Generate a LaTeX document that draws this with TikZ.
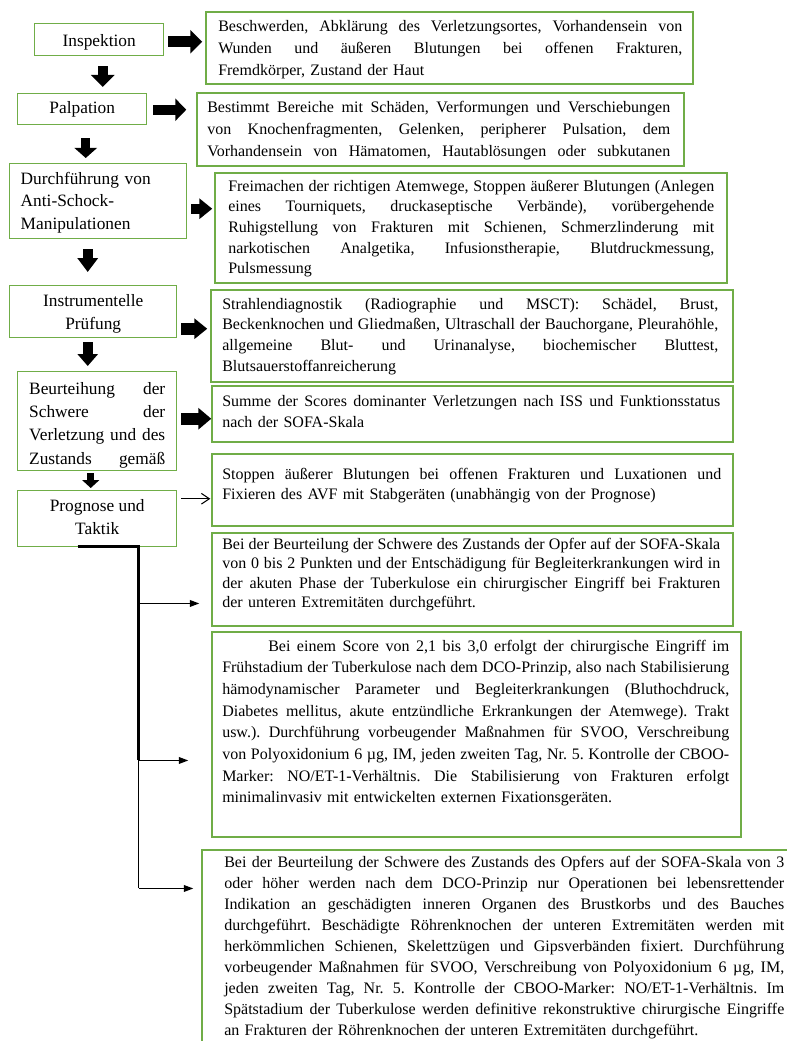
\documentclass[tikz,border=0pt]{standalone}
\usepackage{fontspec}
\setmainfont{Liberation Serif}
\usetikzlibrary{arrows.meta,calc,fit}
\definecolor{boxgreen}{RGB}{112,173,71}
\newcommand\jl[2]{\leavevmode\hbox to #1{\spaceskip=0.25em plus 1fil minus 0.06em\xspaceskip=\spaceskip\relax #2}}
\newcommand\fst{\rule{0pt}{9pt}}
\hbadness=10000 \hfuzz=30pt
\frenchspacing
\def\pxu{0.75pt}
\begin{document}
\begin{tikzpicture}[x=0.75pt,y=-0.75pt,
  lbox/.style={draw=boxgreen, line width=1.1pt, anchor=north west, inner sep=2pt, font=\fontsize{13pt}{#1}\selectfont},
  lbox/.default={17.25pt},
  rbox/.style={draw=boxgreen, line width=1.1pt, inner sep=0pt},
  rtext/.style={anchor=north west, inner sep=0pt, align=left, font=\fontsize{12pt}{#1}\selectfont},
  blockarrow/.style n args={3}{line width=#1, -{Triangle[length=#2,width=#3]}},
  trunkthick/.style={line width=2.25pt},
  trunkthin/.style={line width=1.1pt},
  branch/.style={line width=0.9pt, -{Triangle[length=7pt,width=5pt]}},
  thinarrow/.style={line width=0.75pt, -{Straight Barb[length=6pt,width=8pt]}}
]
\clip (0,0) rectangle (787,1041);

% ---------- left column ----------
\node[lbox, minimum width=129*\pxu, minimum height=32*\pxu] (insp) at (34,23) {\rule{0pt}{13.5pt}Inspektion};
\node[lbox, minimum width=129*\pxu, minimum height=31*\pxu] (palp) at (17,93) {Palpation};
\node[lbox={16.9pt}, minimum width=177*\pxu, minimum height=75*\pxu, text width=116.25pt, align=left] (durch) at (9,163)
  {\rule{0pt}{11pt}Durchführung von\\Anti-Schock-\\Manipulationen};
\node[lbox, minimum width=167*\pxu, minimum height=52*\pxu, align=center] (instr) at (9,285)
  {\rule{0pt}{12pt}Instrumentelle\\Prüfung};
\node[lbox={17.4pt}, minimum width=159*\pxu, minimum height=99*\pxu, text width=102pt, align=left] (beurt) at (17,371)
  {\noindent\rule{0pt}{15pt}\jl{102pt}{Beurteihung der}\\\jl{102pt}{Schwere der}\\\jl{102pt}{Verletzung und des}\\\jl{102pt}{Zustands gemäß}};
\node[lbox, minimum width=159*\pxu, minimum height=56*\pxu, align=center] (prog) at (17,490)
  {Prognose und\\Taktik\rule[-3pt]{0pt}{3pt}};

% ---------- right column boxes ----------
\node[rbox, fit={(206,12) (693,84)}] (b1) {};
\node[rbox, fit={(197,93) (684,166)}] (b2) {};
\node[rbox, fit={(215,173) (727,283)}] (b3) {};
\node[rbox, fit={(211,290) (733,382)}] (b4) {};
\node[rbox, fit={(212,386) (733,442)}] (b5) {};
\node[rbox, fit={(212,454) (733,526)}] (b6) {};
\node[rbox, fit={(212,533) (733,626)}] (b7) {};
\node[rbox, fit={(212,632) (741,837)}] (b8) {};
\node[rbox, fit={(202,850) (795,1060)}] (b9) {};

% ---------- right column texts ----------
\node[rtext={16.5pt}, text width=348pt] (t1) at (218,19) {\noindent\fst
\jl{348pt}{Beschwerden, Abklärung des Verletzungsortes, Vorhandensein von}\\
\jl{348pt}{Wunden und äußeren Blutungen bei offenen Frakturen,}\\
Fremdkörper, Zustand der Haut};

\node[rtext={16.5pt}, text width=347.25pt] (t2) at (207,100) {\noindent\fst
\jl{347.25pt}{Bestimmt Bereiche mit Schäden, Verformungen und Verschiebungen}\\
\jl{347.25pt}{von Knochenfragmenten, Gelenken, peripherer Pulsation, dem}\\
\jl{347.25pt}{Vorhandensein von Hämatomen, Hautablösungen oder subkutanen}};

\node[rtext={15.5pt}, text width=364.5pt] (t3) at (228,179) {\noindent\fst
\jl{364.5pt}{Freimachen der richtigen Atemwege, Stoppen äußerer Blutungen (Anlegen}\\
\jl{364.5pt}{eines Tourniquets, druckaseptische Verbände), vorübergehende}\\
\jl{364.5pt}{Ruhigstellung von Frakturen mit Schienen, Schmerzlinderung mit}\\
\jl{364.5pt}{narkotischen Analgetika, Infusionstherapie, Blutdruckmessung,}\\
Pulsmessung};

\node[rtext={15.5pt}, text width=372pt] (t4) at (222,297) {\noindent\fst
\jl{372pt}{Strahlendiagnostik (Radiographie und MSCT): Schädel, Brust,}\\
\jl{372pt}{Beckenknochen und Gliedmaßen, Ultraschall der Bauchorgane, Pleurahöhle,}\\
\jl{372pt}{allgemeine Blut- und Urinanalyse, biochemischer Bluttest,}\\
Blutsauerstoffanreicherung};

\node[rtext={15.75pt}, text width=373.5pt] (t5) at (222,394) {\noindent\fst
\jl{373.5pt}{Summe der Scores dominanter Verletzungen nach ISS und Funktionsstatus}\\
nach der SOFA-Skala};

\node[rtext={15pt}, text width=374.25pt] (t6) at (222,467) {\noindent\fst
\jl{374.25pt}{Stoppen äußerer Blutungen bei offenen Frakturen und Luxationen und}\\
Fixieren des AVF mit Stabgeräten (unabhängig von der Prognose)};

\node[rtext={14.6pt}, text width=373.5pt] (t7) at (222,537) {\noindent\fst
\jl{373.5pt}{Bei der Beurteilung der Schwere des Zustands der Opfer auf der SOFA-Skala}\\
\jl{373.5pt}{von 0 bis 2 Punkten und der Entschädigung für Begleiterkrankungen wird in}\\
\jl{373.5pt}{der akuten Phase der Tuberkulose ein chirurgischer Eingriff bei Frakturen}\\
der unteren Extremitäten durchgeführt.};

\node[rtext={16.25pt}, text width=380.25pt] (t8) at (222,639) {\noindent\fst\hspace*{34.5pt}%
\jl{345.75pt}{Bei einem Score von 2,1 bis 3,0 erfolgt der chirurgische Eingriff im}\\
\jl{380.25pt}{Frühstadium der Tuberkulose nach dem DCO-Prinzip, also nach Stabilisierung}\\
\jl{380.25pt}{hämodynamischer Parameter und Begleiterkrankungen (Bluthochdruck,}\\
\jl{380.25pt}{Diabetes mellitus, akute entzündliche Erkrankungen der Atemwege). Trakt}\\
\jl{380.25pt}{usw.). Durchführung vorbeugender Maßnahmen für SVOO, Verschreibung}\\
\jl{380.25pt}{von Polyoxidonium 6 µg, IM, jeden zweiten Tag, Nr. 5. Kontrolle der CBOO-}\\
\jl{380.25pt}{Marker: NO/ET-1-Verhältnis. Die Stabilisierung von Frakturen erfolgt}\\
minimalinvasiv mit entwickelten externen Fixationsgeräten.};

\node[rtext={15.75pt}, text width=420pt] (t9) at (224,855) {\noindent\fst
\jl{420pt}{Bei der Beurteilung der Schwere des Zustands des Opfers auf der SOFA-Skala von 3}\\
\jl{420pt}{oder höher werden nach dem DCO-Prinzip nur Operationen bei lebensrettender}\\
\jl{420pt}{Indikation an geschädigten inneren Organen des Brustkorbs und des Bauches}\\
\jl{420pt}{durchgeführt. Beschädigte Röhrenknochen der unteren Extremitäten werden mit}\\
\jl{420pt}{herkömmlichen Schienen, Skelettzügen und Gipsverbänden fixiert. Durchführung}\\
\jl{420pt}{vorbeugender Maßnahmen für SVOO, Verschreibung von Polyoxidonium 6 µg, IM,}\\
\jl{420pt}{jeden zweiten Tag, Nr. 5. Kontrolle der CBOO-Marker: NO/ET-1-Verhältnis. Im}\\
\jl{420pt}{Spätstadium der Tuberkulose werden definitive rekonstruktive chirurgische Eingriffe}\\
an Frakturen der Röhrenknochen der unteren Extremitäten durchgeführt.};

% ---------- horizontal block arrows ----------
\draw[blockarrow={8.25pt}{9pt}{17.25pt}] ($(insp.east)+(4,2)$) -- ($(insp.east -| b1.west)+(-3,2)$);
\draw[blockarrow={7.5pt}{8.25pt}{16.5pt}] ($(palp.east)+(6,0.5)$) -- ($(palp.east -| b2.west)+(-10,0.5)$);
\draw[blockarrow={7.5pt}{9.75pt}{15pt}] ($(durch.east)+(4,7.5)$) -- ($(durch.east -| b3.west)+(-2,7.5)$);
\draw[blockarrow={9pt}{9.75pt}{15pt}] ($(instr.east)+(4,17)$) -- ($(instr.east -| b4.west)+(-3,17)$);
\draw[blockarrow={9pt}{9.75pt}{15.75pt}] ($(beurt.east)+(4,-2.5)$) -- ($(beurt.east -| b5.west)+(0,-2.5)$);
\draw[thinarrow] ($(prog.east)+(4,-20)$) -- ($(prog.east -| b6.west)+(-1,-20)$);

% ---------- vertical block arrows ----------
\draw[blockarrow={7.5pt}{9pt}{17.25pt}] ($(insp.south)+(3.5,10)$) -- ($(insp.south |- palp.north)+(3.5,-6)$);
\draw[blockarrow={6.75pt}{7.5pt}{16.5pt}] ($(palp.south)+(3.5,13)$) -- ($(palp.south |- durch.north)+(3.5,-5)$);
\draw[blockarrow={7.5pt}{10.5pt}{15pt}] ($(durch.south)+(-10.5,10)$) -- ($(durch.south |- instr.north)+(-10.5,-13)$);
\draw[blockarrow={7.5pt}{9pt}{15pt}] ($(instr.south)+(-5.5,4)$) -- ($(instr.south |- beurt.north)+(-5.5,-5)$);
\draw[blockarrow={5.25pt}{6pt}{12.75pt}] ($(beurt.south)+(-6.5,2)$) -- ($(beurt.south |- prog.north)+(-6.5,-2)$);

% ---------- tree from Prognose ----------
\coordinate (k1) at ($(prog.south)+(41.5,56)$);
\coordinate (k2) at ($(prog.south)+(41.5,213)$);
\coordinate (k3) at ($(prog.south)+(41.5,341)$);
\draw[trunkthick] ($(prog.south)+(-19.5,-1)$) -| (k2);
\draw[trunkthin] (k2) -- (k3);
\draw[branch] (k1) -- ($(k1 -| b7.west)+(-12,0)$);
\draw[branch] (k2) -- ($(k2 -| b8.west)+(-23,0)$);
\draw[branch] (k3) -- ($(k3 -| b9.west)+(-8,0)$);
\end{tikzpicture}
\end{document}
